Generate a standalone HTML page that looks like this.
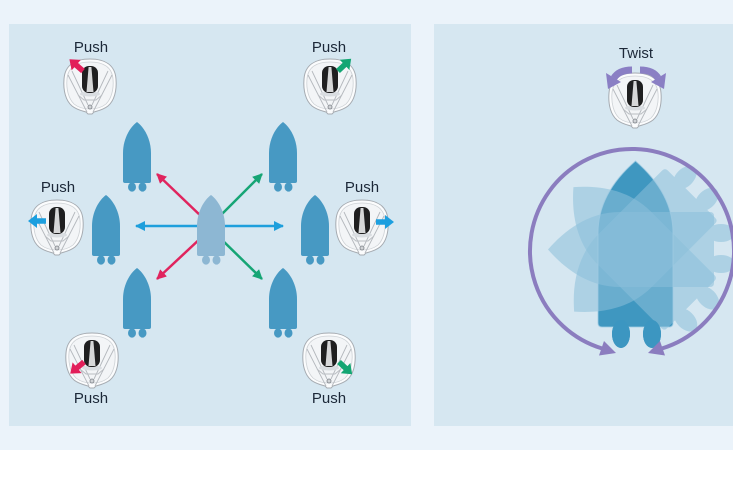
<!DOCTYPE html>
<html><head><meta charset="utf-8"><style>
html,body{margin:0;padding:0;background:#fff;}
svg{display:block;}
text{font-family:"Liberation Sans",sans-serif;font-size:15px;fill:#1c2838;text-anchor:middle;}
</style></head><body>
<svg width="733" height="490" viewBox="0 0 733 490" xmlns="http://www.w3.org/2000/svg">
<defs>
  <g id="joy">
    <path d="M27,1 C42,1 52,7 53,21 C54,33 51,43 45,48 C40,52 34,53 31,54 L29,56 L25,56 L23,54 C20,53 14,52 9,48 C3,43 0,33 1,21 C2,7 12,1 27,1 Z" fill="#fbfcfd" stroke="#a6abb1" stroke-width="1"/>
    <path d="M27,4 C40,4 49,9 50,21 C51,32 48,41 43,46 C38,50 33,51 27,51 C21,51 16,50 11,46 C6,41 3,32 4,21 C5,9 14,4 27,4 Z" fill="#f3f5f7" stroke="#cdd1d5" stroke-width="0.8"/>
    <path d="M5,17 L24,54 M49,17 L30,54 M9,13 L25,47 M45,13 L29,47" stroke="#b4b8bd" stroke-width="0.9" fill="none"/>
    <path d="M15,37 L21,42 L33,42 L39,37" stroke="#b9bdc2" stroke-width="0.9" fill="none"/>
    <circle cx="27" cy="49" r="2" fill="#d0d3d6" stroke="#7d8288" stroke-width="0.8"/>
    <ellipse cx="27" cy="36" rx="10" ry="2.5" fill="#d9dde1"/>
    <rect x="19" y="8" width="16" height="27" rx="7" fill="#1f1f20"/>
    <path d="M25.6,9 L28.4,9 L30.5,34 L23.5,34 Z" fill="#d6d7d8"/>
  </g>
  <g id="sboat">
    <path d="M14,0 C21,5 28,17 28,31 L28,59 Q28,61 26,61 L2,61 Q0,61 0,59 L0,31 C0,17 7,5 14,0 Z"/>
    <ellipse cx="9" cy="65" rx="4" ry="4.6"/>
    <ellipse cx="19.5" cy="65" rx="4" ry="4.6"/>
  </g>
  <path id="bbody" d="M37.5,0 C56,16 75,40 75,72 L75,162 Q75,166 71,166 L4,166 Q0,166 0,162 L0,72 C0,40 19,16 37.5,0 Z"/>
  <g id="bboat">
    <use href="#bbody"/>
    <ellipse cx="23" cy="173" rx="9" ry="14"/>
    <ellipse cx="54" cy="173" rx="9" ry="14"/>
  </g>
  <path id="tharrow" d="M0,-2.8 L9,-2.8 L9,-7 L18,0 L9,7 L9,2.8 L0,2.8 Z"/>
  <marker id="mr" markerWidth="10" markerHeight="10" refX="9" refY="5" orient="auto" markerUnits="userSpaceOnUse"><path d="M0,0 L10,5 L0,10 Z" fill="#e0245e"/></marker>
  <marker id="mg" markerWidth="10" markerHeight="10" refX="9" refY="5" orient="auto" markerUnits="userSpaceOnUse"><path d="M0,0 L10,5 L0,10 Z" fill="#16a575"/></marker>
  <marker id="mb" markerWidth="10" markerHeight="10" refX="9" refY="5" orient="auto-start-reverse" markerUnits="userSpaceOnUse"><path d="M0,0 L10,5 L0,10 Z" fill="#1e9fdc"/></marker>
</defs>

<!-- backgrounds -->
<rect width="733" height="490" fill="#ffffff"/>
<rect width="733" height="450" fill="#ebf3fa"/>
<rect x="9" y="24" width="402" height="402" fill="#d6e7f1"/>
<rect x="434" y="24" width="299" height="402" fill="#d6e7f1"/>

<!-- left panel boats -->
<g fill="#4799c3">
  <use href="#sboat" x="123" y="122"/>
  <use href="#sboat" x="269" y="122"/>
  <use href="#sboat" x="92" y="195"/>
  <use href="#sboat" x="301" y="195"/>
  <use href="#sboat" x="123" y="268"/>
  <use href="#sboat" x="269" y="268"/>
</g>

<!-- arrows -->
<line x1="136" y1="226" x2="283" y2="226" stroke="#1e9fdc" stroke-width="2.5" marker-start="url(#mb)" marker-end="url(#mb)"/>
<line x1="203" y1="218" x2="157" y2="174" stroke="#e0245e" stroke-width="2.5" marker-end="url(#mr)"/>
<line x1="203" y1="236" x2="157" y2="279" stroke="#e0245e" stroke-width="2.5" marker-end="url(#mr)"/>
<line x1="218" y1="218" x2="262" y2="174" stroke="#16a575" stroke-width="2.5" marker-end="url(#mg)"/>
<line x1="218" y1="236" x2="262" y2="279" stroke="#16a575" stroke-width="2.5" marker-end="url(#mg)"/>

<!-- center faded boat -->
<g fill="#8db7d3">
  <use href="#sboat" x="197" y="195"/>
</g>

<!-- joysticks left panel -->
<use href="#joy" x="63" y="58"/>
<use href="#joy" x="303" y="58"/>
<use href="#joy" x="30" y="199"/>
<use href="#joy" x="335" y="199"/>
<use href="#joy" x="65" y="332"/>
<use href="#joy" x="302" y="332"/>

<!-- joystick arrows -->
<use href="#tharrow" fill="#e21f5a" transform="translate(83,71) rotate(-139)"/>
<use href="#tharrow" fill="#13a673" transform="translate(338,71) rotate(-43)"/>
<use href="#tharrow" fill="#1c9fdf" transform="translate(46,221) rotate(180)"/>
<use href="#tharrow" fill="#1c9fdf" transform="translate(376,222) rotate(0)"/>
<use href="#tharrow" fill="#e21f5a" transform="translate(84,362) rotate(140)"/>
<use href="#tharrow" fill="#13a673" transform="translate(339,362) rotate(43)"/>

<!-- labels -->
<text x="91" y="52">Push</text>
<text x="329" y="52">Push</text>
<text x="58" y="192">Push</text>
<text x="362" y="192">Push</text>
<text x="91" y="403">Push</text>
<text x="329" y="403">Push</text>
<text x="636" y="58">Twist</text>

<!-- right panel -->
<g fill="#3f97c0">
  <use href="#bboat" transform="translate(598,161)"/>
</g>
<g fill="#8cc0db" opacity="0.55">
  <use href="#bboat" transform="rotate(-45 636 249) translate(598,161)"/>
</g>
<g fill="#8cc0db" opacity="0.55">
  <use href="#bboat" transform="rotate(-90 636 249) translate(598,161)"/>
</g>
<g fill="#8cc0db" opacity="0.55">
  <use href="#bboat" transform="rotate(-135 636 249) translate(598,161)"/>
</g>
<use href="#bbody" transform="translate(598,161)" fill="none" stroke="#9fcbe2" stroke-width="1" opacity="0.8"/>
<g fill="#3c96c1">
  <ellipse cx="621" cy="334" rx="9" ry="14"/>
  <ellipse cx="652" cy="334" rx="9" ry="14"/>
</g>

<!-- circular arrow -->
<path d="M602.2,348.5 A102,102 0 1 1 661.8,348.5" fill="none" stroke="#8b7dbf" stroke-width="4"/>
<polygon points="616,353 599,355.5 604,341" fill="#8b7dbf"/>
<polygon points="648,353 665,355.5 660,341" fill="#8b7dbf"/>

<!-- twist joystick -->
<use href="#joy" x="608" y="72"/>
<path d="M632,70 Q619,70 614,78" fill="none" stroke="#8a7fc4" stroke-width="7"/>
<polygon points="608,89 621,82 606,73" fill="#8a7fc4"/>
<path d="M640,70 Q653,70 658,78" fill="none" stroke="#8a7fc4" stroke-width="7"/>
<polygon points="664,89 651,82 666,73" fill="#8a7fc4"/>
</svg>
</body></html>
